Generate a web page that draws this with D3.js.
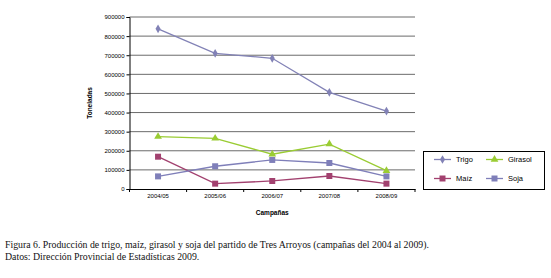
<!DOCTYPE html>
<html>
<head>
<meta charset="utf-8">
<script src="https://cdn.jsdelivr.net/npm/d3@7"></script>
<style>
  body { margin: 0; background: #fff; }
  svg { display: block; }
  .tick text { font-family: "Liberation Sans Narrow", "Liberation Sans", sans-serif; font-size: 6px; fill: #000; }
</style>
</head>
<body>
<svg width="551" height="278"></svg>
<script>
"use strict";

// campaigns on the x axis
const campaigns = ["2004/05", "2005/06", "2006/07", "2007/08", "2008/09"];
const yTicks = [0, 100000, 200000, 300000, 400000, 500000, 600000, 700000, 800000, 900000];

// toneladas per campaign
const trigo   = [838000, 710000, 684000, 506000, 408000];
const girasol = [274000, 265000, 182000, 235000, 96000];
const maiz    = [169000, 28000, 42000, 68000, 28000];
const soja    = [66000, 119000, 152000, 136000, 66000];

const series = [
    {name: "Trigo", values: trigo, color: "#8282b6", shape: d3.symbolDiamond, size: 22},
    {name: "Girasol", values: girasol, color: "#9acc33", shape: d3.symbolTriangle, size: 26},
    {name: "Maíz", values: maiz, color: "#a2416f", shape: d3.symbolSquare, size: 36},
    {name: "Soja", values: soja, color: "#7f7fb9", shape: d3.symbolSquare, size: 36}
];

const plotLeft = 129.5, plotRight = 415, plotTop = 17, plotBottom = 189;

const svg = d3.select("svg");

const xScale = d3.scaleBand().domain(campaigns).range([plotLeft, plotRight]);
const yScale = d3.scaleLinear().domain([0, 900000]).range([plotBottom, plotTop]);

// grid lines
svg.append("g")
    .selectAll("line")
    .data(yTicks.slice(1))
    .join("line")
    .attr("x1", plotLeft).attr("x2", plotRight)
    .attr("y1", d => yScale(d)).attr("y2", d => yScale(d))
    .attr("stroke", "#6b6b6b")
    .attr("stroke-width", 1);

// axes
const yAxis = svg.append("g")
    .attr("transform", `translate(${plotLeft},0)`)
    .call(d3.axisLeft(yScale).tickValues(yTicks).tickFormat(d3.format("d")).tickSize(3).tickPadding(2));
yAxis.select(".domain").attr("stroke", "#000");

const xAxis = svg.append("g")
    .attr("transform", `translate(0,${plotBottom})`)
    .call(d3.axisBottom(xScale).tickSize(0).tickPadding(5));
xAxis.select(".domain").attr("stroke", "#000");
// tick marks between categories
xAxis.selectAll(".sep")
    .data(d3.range(campaigns.length + 1))
    .join("line")
    .attr("class", "sep")
    .attr("x1", i => plotLeft + i * xScale.step())
    .attr("x2", i => plotLeft + i * xScale.step())
    .attr("y1", 0).attr("y2", 3)
    .attr("stroke", "#000");

// lines and markers
const line = d3.line()
    .x((d, i) => xScale(campaigns[i]) + xScale.bandwidth() / 2)
    .y(d => yScale(d));

series.forEach(s => {
    svg.append("path")
        .attr("d", line(s.values))
        .attr("fill", "none")
        .attr("stroke", s.color)
        .attr("stroke-width", 1.3);
    svg.append("g")
        .selectAll("path")
        .data(s.values)
        .join("path")
        .attr("transform", (d, i) => `translate(${xScale(campaigns[i]) + xScale.bandwidth() / 2},${yScale(d)})`)
        .attr("d", d3.symbol().type(s.shape).size(s.size))
        .attr("fill", s.color);
});

// axis titles
svg.append("text")
    .attr("transform", "translate(92,103) rotate(-90)")
    .attr("text-anchor", "middle")
    .attr("font-family", "Liberation Sans Narrow, Liberation Sans, sans-serif")
    .attr("font-weight", "bold")
    .attr("font-size", 6.5)
    .text("Toneladas");

svg.append("text")
    .attr("x", (plotLeft + plotRight) / 2).attr("y", 215)
    .attr("text-anchor", "middle")
    .attr("font-family", "Liberation Sans Narrow, Liberation Sans, sans-serif")
    .attr("font-weight", "bold")
    .attr("font-size", 6.5)
    .text("Campañas");

// legend
const legend = svg.append("g");
legend.append("rect")
    .attr("x", 423.5).attr("y", 151.5)
    .attr("width", 121).attr("height", 38)
    .attr("fill", "#fff")
    .attr("stroke", "#000")
    .attr("stroke-width", 1);

const legPos = [[434, 159.5], [486, 159.5], [434, 178.5], [486, 178.5]];
series.forEach((s, j) => {
    const [lx, ly] = legPos[j];
    legend.append("line")
        .attr("x1", lx).attr("x2", lx + 17)
        .attr("y1", ly).attr("y2", ly)
        .attr("stroke", s.color).attr("stroke-width", 1.3);
    legend.append("path")
        .attr("transform", `translate(${lx + 8.5},${ly})`)
        .attr("d", d3.symbol().type(s.shape).size(s.size))
        .attr("fill", s.color);
    legend.append("text")
        .attr("x", lx + 22).attr("y", ly + 2.5)
        .attr("font-family", "Liberation Sans Narrow, Liberation Sans, sans-serif")
        .attr("font-size", 7.5)
        .text(s.name);
});

// caption
const caption = [
    "Figura 6. Producción de trigo, maíz, girasol y soja del partido de Tres Arroyos (campañas del 2004 al 2009).",
    "Datos: Dirección Provincial de Estadísticas 2009."
];
svg.append("g")
    .selectAll("text")
    .data(caption)
    .join("text")
    .attr("x", 5)
    .attr("y", (d, i) => 248 + i * 12)
    .attr("font-family", "Liberation Serif, serif")
    .attr("font-size", 9.8)
    .attr("fill", "#111")
    .text(d => d);
</script>
</body>
</html>
